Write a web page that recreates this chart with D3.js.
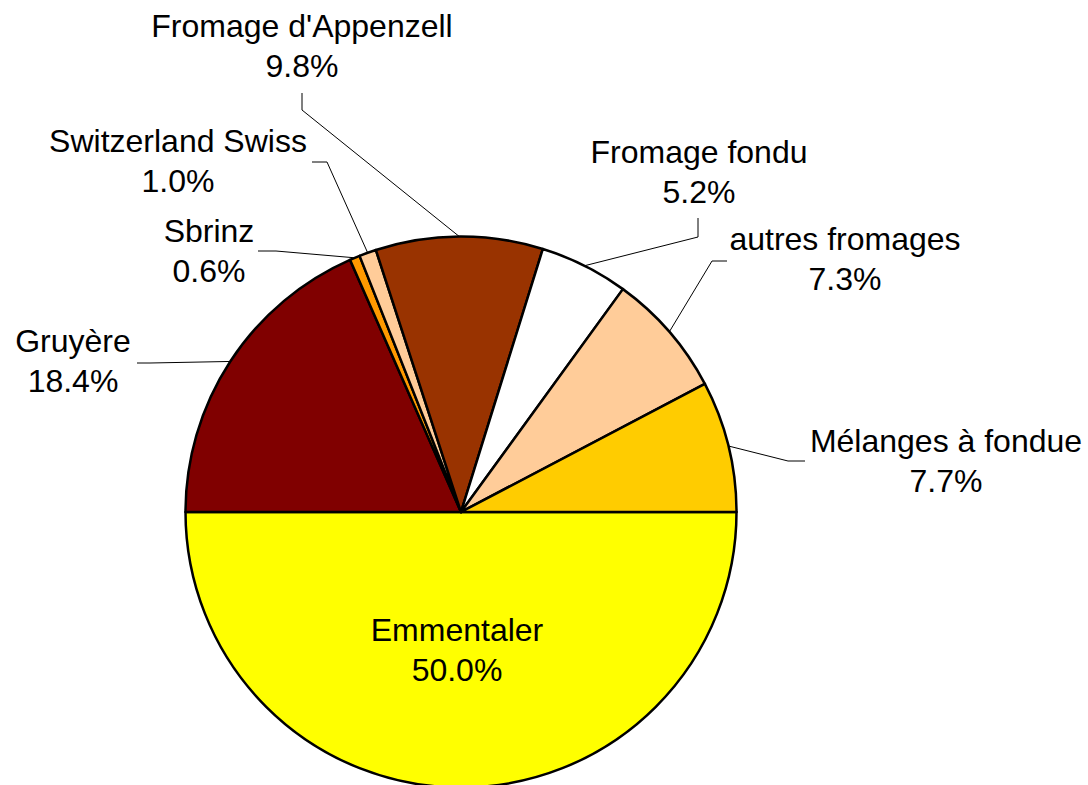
<!DOCTYPE html>
<html>
<head>
<meta charset="utf-8">
<script src="https://cdn.jsdelivr.net/npm/d3@7"></script>
<style>
  html, body { margin: 0; padding: 0; background: #fff; }
  svg { display: block; }
  text { font-family: "Liberation Sans", Arial, sans-serif; font-size: 32px; fill: #000; }
</style>
</head>
<body>
<svg id="chart" width="1088" height="785"></svg>
<script>
// ---- data ----
const categories = ["Emmentaler", "Gruyère", "Sbrinz", "Switzerland Swiss", "Fromage d'Appenzell", "Fromage fondu", "autres fromages", "Mélanges à fondue"];
const shares = [50.0, 18.4, 0.6, 1.0, 9.8, 5.2, 7.3, 7.7];
const colors = ["#FFFF00", "#800000", "#FF9900", "#FFCC99", "#993300", "#FFFFFF", "#FFCC99", "#FFCC00"];

// ---- layout (label anchor: centre x, first baseline; leader: elbow + end points) ----
const labelLayout = [
  { x: 457, y: 641, leader: null },
  { x: 73,  y: 352, leader: [[150, 363], [137, 363]] },
  { x: 209, y: 242, leader: [[276, 251], [258, 251]] },
  { x: 178, y: 152, leader: [[327, 162], [312, 162]] },
  { x: 302, y: 37,  leader: [[302, 110], [302, 93]] },
  { x: 699, y: 163, leader: [[698, 237], [698, 218]] },
  { x: 845, y: 250, leader: [[712, 261], [727, 261]] },
  { x: 946, y: 452, leader: [[788, 461], [805, 461]] }
];

const cx = 461, cy = 512, radius = 275.5, lineGap = 39.5;

const svg = d3.select("#chart");
const g = svg.append("g").attr("transform", `translate(${cx},${cy})`);

const pie = d3.pie().sort(null).value(d => d.v)
  .startAngle(Math.PI / 2).endAngle(Math.PI / 2 + 2 * Math.PI);
const arc = d3.arc().innerRadius(0).outerRadius(radius);

const data = categories.map((c, i) => ({ c, v: shares[i], color: colors[i], layout: labelLayout[i] }));
const arcs = pie(data);

g.selectAll("path.slice").data(arcs).enter().append("path")
  .attr("class", "slice")
  .attr("d", arc)
  .attr("fill", d => d.data.color)
  .attr("stroke", "#000")
  .attr("stroke-width", 2.5)
  .attr("stroke-linejoin", "round");

// leader lines start at the middle of each slice's outer arc
const line = d3.line();
arcs.forEach(d => {
  const L = d.data.layout.leader;
  if (!L) return;
  const a = (d.startAngle + d.endAngle) / 2;
  const p0 = [cx + radius * Math.sin(a), cy - radius * Math.cos(a)];
  svg.append("path")
    .attr("d", line([p0, ...L]))
    .attr("fill", "none")
    .attr("stroke", "#000")
    .attr("stroke-width", 1);
});

const fmt = d3.format(".1f");
arcs.forEach(d => {
  const t = svg.append("text")
    .attr("text-anchor", "middle")
    .attr("x", d.data.layout.x)
    .attr("y", d.data.layout.y);
  t.append("tspan").attr("x", d.data.layout.x).text(d.data.c);
  t.append("tspan").attr("x", d.data.layout.x).attr("dy", lineGap).text(fmt(d.data.v) + "%");
});
</script>
</body>
</html>
